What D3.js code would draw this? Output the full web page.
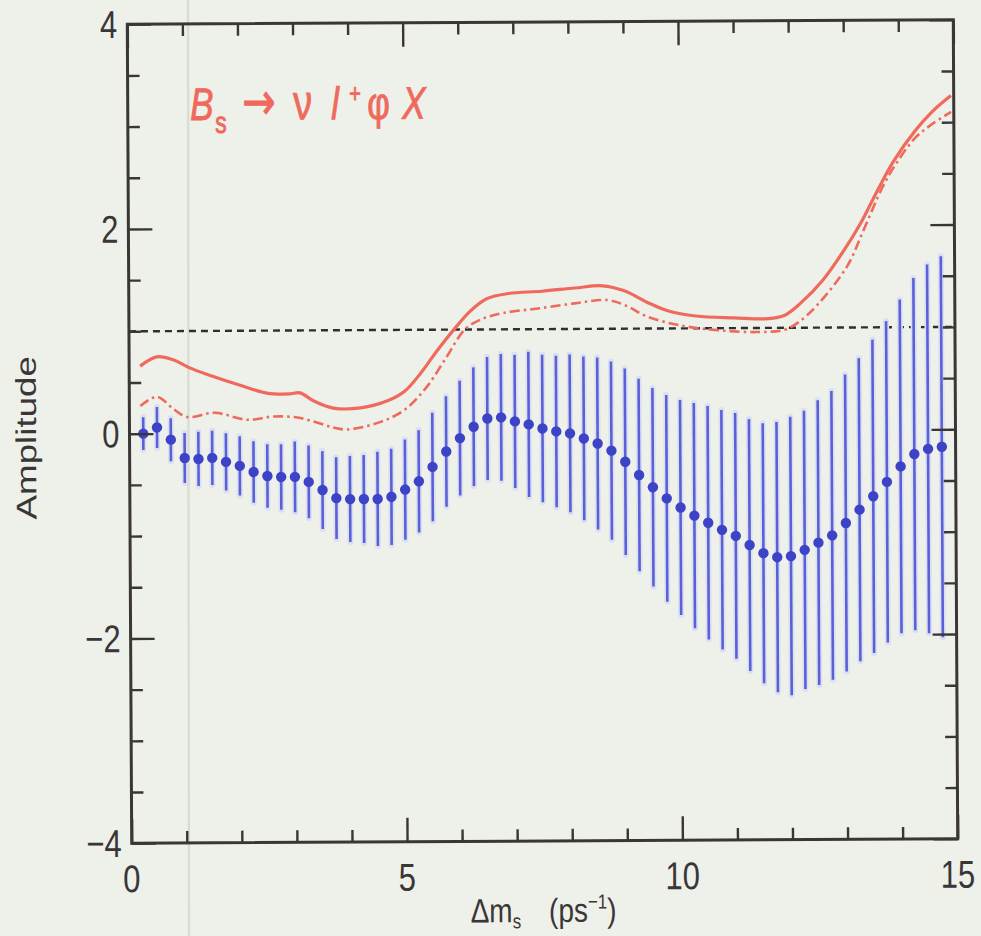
<!DOCTYPE html>
<html><head><meta charset="utf-8">
<script src="https://cdn.jsdelivr.net/npm/d3@7"></script>
<style>html,body{margin:0;padding:0;background:#eef0ea;}svg{display:block}</style>
</head><body>
<svg id="chart" width="981" height="936"></svg>
<script>
// ---- data ----
const dmGrid = [0.25,0.5,0.75,1,1.25,1.5,1.75,2,2.25,2.5,2.75,3,3.25,3.5,3.75,4,4.25,4.5,4.75,5,
  5.25,5.5,5.75,6,6.25,6.5,6.75,7,7.25,7.5,7.75,8,8.25,8.5,8.75,9,9.25,9.5,9.75,10,
  10.25,10.5,10.75,11,11.25,11.5,11.75,12,12.25,12.5,12.75,13,13.25,13.5,13.75,14,14.25,14.5,14.75];
const amplitude = [0.00,0.06,-0.06,-0.24,-0.25,-0.24,-0.28,-0.32,-0.38,-0.42,
  -0.43,-0.43,-0.48,-0.56,-0.64,-0.65,-0.65,-0.65,-0.63,-0.56,
  -0.48,-0.34,-0.19,-0.06,0.05,0.13,0.14,0.10,0.07,0.03,
  0.00,-0.02,-0.07,-0.12,-0.19,-0.30,-0.43,-0.55,-0.66,-0.75,
  -0.83,-0.90,-0.97,-1.03,-1.12,-1.20,-1.24,-1.23,-1.17,-1.10,
  -1.03,-0.91,-0.78,-0.65,-0.51,-0.36,-0.24,-0.19,-0.17];
const amplitudeErr = [0.16,0.20,0.21,0.245,0.265,0.265,0.28,0.29,0.30,0.31,
  0.32,0.345,0.355,0.38,0.40,0.42,0.43,0.46,0.47,0.49,
  0.50,0.53,0.54,0.56,0.58,0.60,0.62,0.65,0.71,0.72,
  0.74,0.77,0.80,0.84,0.87,0.91,0.94,0.97,1.01,1.05,
  1.10,1.14,1.17,1.20,1.23,1.27,1.32,1.36,1.36,1.39,
  1.41,1.45,1.48,1.53,1.57,1.63,1.72,1.80,1.86];
const solidDm  = [0.2,0.5,0.8,1.1,1.5,2.0,2.5,2.9,3.1,3.35,3.7,4.2,4.7,5.0,5.3,5.6,5.9,6.2,6.5,6.9,
  7.5,8.1,8.6,9.0,9.4,9.8,10.3,11.0,11.6,11.9,12.2,12.6,13.0,13.3,13.6,13.9,14.3,14.6,14.95];
const solidAmp = [0.66,0.75,0.72,0.64,0.56,0.47,0.39,0.38,0.39,0.31,0.24,0.24,0.31,0.40,0.58,0.80,1.00,1.18,1.30,1.35,
  1.37,1.40,1.42,1.37,1.26,1.17,1.12,1.10,1.09,1.12,1.24,1.46,1.76,2.02,2.33,2.62,2.92,3.10,3.26];
const dashDm  = [0.2,0.5,0.8,1.05,1.55,2.15,2.6,3.05,3.4,3.7,3.95,4.55,5.0,5.4,5.75,6.1,6.4,6.8,7.4,8.1,
  8.7,9.05,9.4,10.0,10.7,11.4,11.9,12.15,12.5,13.05,13.35,13.7,13.95,14.3,14.6,14.95];
const dashAmp = [0.27,0.36,0.24,0.16,0.20,0.13,0.16,0.15,0.10,0.05,0.03,0.10,0.22,0.44,0.72,1.00,1.10,1.16,1.20,1.25,
  1.28,1.22,1.12,1.03,0.98,0.96,0.98,1.05,1.22,1.60,1.95,2.37,2.60,2.85,2.98,3.10];
const refLevel = 1;
const xMajor = [0,5,10,15];
const xMinor = [1,2,3,4,6,7,8,9,11,12,13,14];
const yMajor = [-4,-2,0,2,4];
const yMinor = [-3.5,-3,-2.5,-1.5,-1,-0.5,0.5,1,1.5,2.5,3,3.5];
const xTickLabels = ["0","5","10","15"];
const yTickLabels = ["\u22124","\u22122","0","2","4"];

// ---- layout ----
const L = 129.5, R = 955.5, T = 22, B = 841;
const x = d3.scaleLinear().domain([0,15]).range([L,R]);
const y = d3.scaleLinear().domain([-4,4]).range([B,T]);
const ink = "#3a3636", red = "#ef6a5c", blue = "#3c43c6", barBlue = "#5a61d6";

const svg = d3.select("#chart");
svg.append("rect").attr("width",981).attr("height",936).attr("fill","#eef0ea");
// faint scan streak
svg.append("line").attr("x1",188).attr("x2",189).attr("y1",0).attr("y2",936)
  .attr("stroke","#dadcd6").attr("stroke-width",2.5);

const g = svg.append("g").attr("transform","rotate(-0.31,542.5,431.5)");

g.append("defs").append("clipPath").attr("id","plot")
  .append("rect").attr("x",L).attr("y",T).attr("width",R-L).attr("height",B-T);

// reference line at 1
g.append("line").attr("x1",x(0)).attr("x2",x(15)).attr("y1",y(refLevel)).attr("y2",y(refLevel))
  .attr("stroke","#2e2e2e").attr("stroke-width",2.4).attr("stroke-dasharray","7,5");

// error bars
const pts = dmGrid.map((d,i)=>({dm:d,a:amplitude[i],e:amplitudeErr[i]}));
const bars = g.append("g").attr("clip-path","url(#plot)");
bars.selectAll("line.halo").data(pts).join("line").attr("class","halo")
  .attr("x1",d=>x(d.dm)).attr("x2",d=>x(d.dm))
  .attr("y1",d=>y(d.a-d.e)).attr("y2",d=>y(d.a+d.e))
  .attr("stroke","#dcdff3").attr("stroke-width",6).attr("stroke-linecap","round");
bars.selectAll("line.bar").data(pts).join("line").attr("class","bar")
  .attr("x1",d=>x(d.dm)).attr("x2",d=>x(d.dm))
  .attr("y1",d=>y(d.a-d.e)).attr("y2",d=>y(d.a+d.e))
  .attr("stroke",barBlue).attr("stroke-width",2.6);

// red limit curves
const line = d3.line().x(d=>x(d[0])).y(d=>y(d[1])).curve(d3.curveCatmullRom.alpha(0.5));
const curves = g.append("g").attr("clip-path","url(#plot)");
curves.append("path").attr("d",line(solidDm.map((d,i)=>[d,solidAmp[i]])))
  .attr("fill","none").attr("stroke",red).attr("stroke-width",3.2);
curves.append("path").attr("d",line(dashDm.map((d,i)=>[d,dashAmp[i]])))
  .attr("fill","none").attr("stroke",red).attr("stroke-width",2.6).attr("stroke-dasharray","10,4,2.5,4");

// points
g.append("g").selectAll("circle").data(pts).join("circle")
  .attr("cx",d=>x(d.dm)).attr("cy",d=>y(d.a)).attr("r",5.2).attr("fill",blue);

// frame & ticks
const axStyle = sel => { sel.select(".domain").remove(); sel.selectAll("line").attr("stroke",ink).attr("stroke-width",2.4); sel.selectAll("text").remove(); };
const mk = (axisFn, scale, vals, size, tr) => g.append("g").attr("transform",tr)
  .call(axisFn(scale).tickValues(vals).tickSize(-size).tickFormat("")).call(axStyle);
mk(d3.axisBottom, x, xMinor, 12, `translate(0,${B})`);
mk(d3.axisBottom, x, xMajor, 24, `translate(0,${B})`);
mk(d3.axisTop, x, xMinor, 12, `translate(0,${T})`);
mk(d3.axisTop, x, xMajor, 24, `translate(0,${T})`);
mk(d3.axisLeft, y, yMinor, 12, `translate(${L},0)`);
mk(d3.axisLeft, y, yMajor, 24, `translate(${L},0)`);
mk(d3.axisRight, y, yMinor, 12, `translate(${R},0)`);
mk(d3.axisRight, y, yMajor, 24, `translate(${R},0)`);
g.append("rect").attr("x",L).attr("y",T).attr("width",R-L).attr("height",B-T)
  .attr("fill","none").attr("stroke",ink).attr("stroke-width",3);

// tick labels
const font = "'Liberation Sans', Arial, Helvetica, sans-serif";
g.append("g").selectAll("text").data(xMajor).join("text")
  .attr("transform",d=>`translate(${x(d)},${B+49}) scale(1,1.25)`)
  .attr("text-anchor","middle").attr("font-family",font).attr("font-size",31).attr("fill",ink)
  .text((d,i)=>xTickLabels[i]);
g.append("g").selectAll("text").data(yMajor).join("text")
  .attr("transform",d=>`translate(${L-10},${y(d)+13.5}) scale(1,1.25)`)
  .attr("text-anchor","end").attr("font-family",font).attr("font-size",31).attr("fill",ink)
  .text((d,i)=>yTickLabels[i]);

// axis titles
g.append("text").attr("transform","translate(36,435) scale(1,1.29) rotate(-90)")
  .attr("text-anchor","middle").attr("font-family",font).attr("font-size",28.5).attr("fill",ink)
  .text("Amplitude");
const xt = g.append("text").attr("transform","translate(541,922) scale(1,1.2)")
  .attr("text-anchor","middle").attr("font-family",font).attr("font-size",28).attr("fill",ink);
xt.append("tspan").text("\u0394m");
xt.append("tspan").attr("font-size",17).attr("dy",5).text("s");
xt.append("tspan").attr("dy",-5).text("\u2002\u2002(ps");
xt.append("tspan").attr("font-size",17).attr("dy",-11).text("\u22121");
xt.append("tspan").attr("dy",11).text(")");

// decay label
const lab = g.append("text").attr("transform","translate(0,118) scale(1,1.3)")
  .attr("font-family",font).attr("font-size",35).attr("fill",red)
  .attr("stroke",red).attr("stroke-width",0.7);
lab.append("tspan").attr("x",192).attr("font-style","italic").text("B");
lab.append("tspan").attr("x",217).attr("dy",10).attr("font-size",23).text("s");
lab.append("tspan").attr("x",244).attr("dy",-10).attr("font-family","'DejaVu Sans', sans-serif").attr("font-size",40).text("\u2192");
lab.append("tspan").attr("x",295).attr("font-size",38).text("\u03BD");
lab.append("tspan").attr("x",333).attr("font-style","italic").text("l");
lab.append("tspan").attr("x",351).attr("dy",-13).attr("font-size",20).text("+");
lab.append("tspan").attr("x",369).attr("dy",13).text("\u03C6");
lab.append("tspan").attr("x",404).attr("font-style","italic").text("X");
</script>
</body></html>
